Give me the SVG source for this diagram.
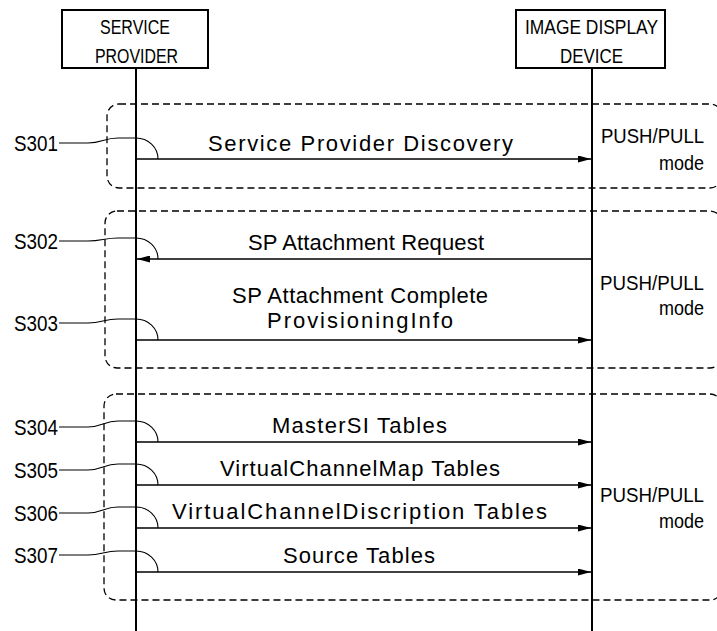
<svg xmlns="http://www.w3.org/2000/svg" width="717" height="631" viewBox="0 0 717 631">
<defs>
<style>
.box{fill:#fff;stroke:#000;stroke-width:2}
.life{stroke:#000;stroke-width:2;fill:none}
.frame{fill:none;stroke:#000;stroke-width:1.3;stroke-dasharray:7 4}
.msg{stroke:#000;stroke-width:1.3;fill:none;marker-end:url(#ah)}
.lead{stroke:#000;stroke-width:1.1;fill:none}
.t{font-family:"Liberation Sans",Arial,sans-serif;fill:#000}
.hd{font-size:21px}
.m{font-size:22px;text-anchor:start}
.lb{font-size:22px}
.pp{font-size:21px}
</style>
<marker id="ah" viewBox="0 0 13 7" refX="13" refY="3.5" markerWidth="13" markerHeight="7" markerUnits="userSpaceOnUse" orient="auto">
<path d="M0,0 L13,3.5 L0,7 Z" fill="#000"/>
</marker>
</defs>

<g id="frames">
<rect class="frame" x="107" y="104" width="615" height="84" rx="12"/>
<rect class="frame" x="105" y="211" width="617" height="157" rx="12"/>
<rect class="frame" x="104" y="394" width="618" height="206" rx="12"/>
</g>

<g id="service-provider">
<rect class="box" x="62" y="10" width="146" height="58"/>
<text class="t hd" x="100" y="34" textLength="70" lengthAdjust="spacingAndGlyphs">SERVICE</text>
<text class="t hd" x="95" y="63" textLength="83" lengthAdjust="spacingAndGlyphs">PROVIDER</text>
<line class="life" x1="136" y1="68" x2="136" y2="631"/>
</g>

<g id="image-display-device">
<rect class="box" x="516" y="10" width="149" height="58"/>
<text class="t hd" x="525" y="34" textLength="133" lengthAdjust="spacingAndGlyphs">IMAGE DISPLAY</text>
<text class="t hd" x="560" y="63" textLength="63" lengthAdjust="spacingAndGlyphs">DEVICE</text>
<line class="life" x1="592" y1="68" x2="592" y2="631"/>
</g>

<g id="modes">
<text class="t pp" x="601" y="143" textLength="103" lengthAdjust="spacingAndGlyphs">PUSH/PULL</text>
<text class="t pp" x="659" y="170" textLength="45" lengthAdjust="spacingAndGlyphs">mode</text>
<text class="t pp" x="600" y="290" textLength="104" lengthAdjust="spacingAndGlyphs">PUSH/PULL</text>
<text class="t pp" x="659" y="315" textLength="45" lengthAdjust="spacingAndGlyphs">mode</text>
<text class="t pp" x="600" y="502" textLength="104" lengthAdjust="spacingAndGlyphs">PUSH/PULL</text>
<text class="t pp" x="659" y="528" textLength="45" lengthAdjust="spacingAndGlyphs">mode</text>
</g>

<g id="connectors">
<line class="msg" x1="136" y1="159" x2="591" y2="159"/>
<line class="msg" x1="591" y1="259" x2="137" y2="259"/>
<line class="msg" x1="136" y1="340" x2="591" y2="340"/>
<line class="msg" x1="136" y1="442" x2="591" y2="442"/>
<line class="msg" x1="136" y1="485" x2="591" y2="485"/>
<line class="msg" x1="136" y1="528" x2="591" y2="528"/>
<line class="msg" x1="136" y1="572" x2="591" y2="572"/>
<path class="lead" d="M136,138 A22,21 0 0 1 158,159"/>
<path class="lead" d="M136,238 A22,21 0 0 1 158,259"/>
<path class="lead" d="M136,319 A22,21 0 0 1 158,340"/>
<path class="lead" d="M136,421 A22,21 0 0 1 158,442"/>
<path class="lead" d="M136,464 A22,21 0 0 1 158,485"/>
<path class="lead" d="M136,507 A22,21 0 0 1 158,528"/>
<path class="lead" d="M136,551 A22,21 0 0 1 158,572"/>
<path class="lead" d="M59,143 H88 C102,143 104,138 118,138 H136"/>
<path class="lead" d="M59,241 H88 C102,241 104,238 118,238 H136"/>
<path class="lead" d="M59,323 H88 C102,323 104,319 118,319 H136"/>
<path class="lead" d="M59,427 H88 C102,427 104,421 118,421 H136"/>
<path class="lead" d="M59,470 H88 C102,470 104,464 118,464 H136"/>
<path class="lead" d="M59,513 H88 C102,513 104,507 118,507 H136"/>
<path class="lead" d="M59,555 H88 C102,555 104,551 118,551 H136"/>
</g>

<g id="step-labels">
<text class="t lb" x="14" y="151" textLength="44" lengthAdjust="spacingAndGlyphs">S301</text>
<text class="t lb" x="14" y="249" textLength="44" lengthAdjust="spacingAndGlyphs">S302</text>
<text class="t lb" x="14" y="331" textLength="44" lengthAdjust="spacingAndGlyphs">S303</text>
<text class="t lb" x="14" y="435" textLength="44" lengthAdjust="spacingAndGlyphs">S304</text>
<text class="t lb" x="14" y="478" textLength="44" lengthAdjust="spacingAndGlyphs">S305</text>
<text class="t lb" x="14" y="521" textLength="44" lengthAdjust="spacingAndGlyphs">S306</text>
<text class="t lb" x="14" y="563" textLength="44" lengthAdjust="spacingAndGlyphs">S307</text>
</g>

<g id="message-labels">
<text class="t m" x="208" y="151" textLength="305" lengthAdjust="spacing">Service Provider Discovery</text>
<text class="t m" x="248" y="250" textLength="236" lengthAdjust="spacing">SP Attachment Request</text>
<text class="t m" x="232" y="303" textLength="256" lengthAdjust="spacing">SP Attachment Complete</text>
<text class="t m" x="267" y="328" textLength="186" lengthAdjust="spacing">ProvisioningInfo</text>
<text class="t m" x="272" y="433" textLength="175" lengthAdjust="spacing">MasterSI Tables</text>
<text class="t m" x="220" y="476" textLength="280" lengthAdjust="spacing">VirtualChannelMap Tables</text>
<text class="t m" x="172" y="519" textLength="375" lengthAdjust="spacing">VirtualChannelDiscription Tables</text>
<text class="t m" x="283" y="563" textLength="152" lengthAdjust="spacing">Source Tables</text>
</g>
</svg>
